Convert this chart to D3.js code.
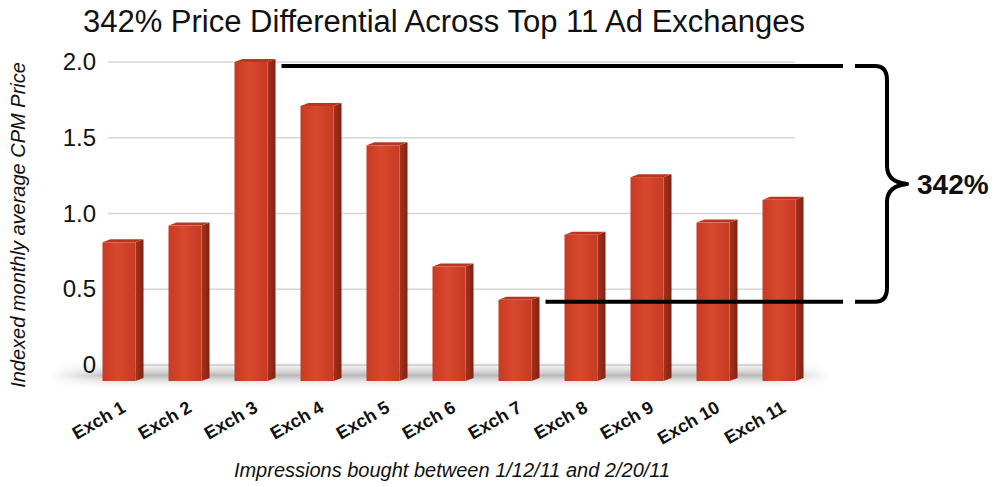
<!DOCTYPE html>
<html>
<head>
<meta charset="utf-8">
<script src="https://cdn.jsdelivr.net/npm/d3@7"></script>
<style>
  body { margin: 0; background: #fff; }
  text { font-family: "Liberation Sans", Arial, sans-serif; }
</style>
</head>
<body>
<svg id="chart"></svg>
<script>
var exchanges = ["Exch 1", "Exch 2", "Exch 3", "Exch 4", "Exch 5", "Exch 6", "Exch 7", "Exch 8", "Exch 9", "Exch 10", "Exch 11"]
var prices = [0.81, 0.92, 2.0, 1.71, 1.45, 0.65, 0.43, 0.86, 1.24, 0.94, 1.09]
var yTicks = [0, 0.5, 1.0, 1.5, 2.0]
var spreadLabel = "342%"

var width = 999, height = 487
var svg = d3.select("#chart")
    .attr("width", width)
    .attr("height", height)

var x = d3.scaleBand()
    .domain(exchanges)
    .range([86, 812])
    .paddingInner(0.5)
    .paddingOuter(0.25)

var y = d3.scaleLinear()
    .domain([0, 2])
    .range([365, 62])

var defs = svg.append("defs")
var front = defs.append("linearGradient").attr("id", "front")
front.append("stop").attr("offset", "0%").attr("stop-color", "#c73a22")
front.append("stop").attr("offset", "45%").attr("stop-color", "#d9482d")
front.append("stop").attr("offset", "100%").attr("stop-color", "#c53b24")
var side = defs.append("linearGradient").attr("id", "side")
side.append("stop").attr("offset", "0%").attr("stop-color", "#a9301b")
side.append("stop").attr("offset", "100%").attr("stop-color", "#7f2313")
var floor = defs.append("linearGradient").attr("id", "floor")
    .attr("x1", 0).attr("y1", 0).attr("x2", 0).attr("y2", 1)
floor.append("stop").attr("offset", "0%").attr("stop-color", "#ffffff").attr("stop-opacity", 0)
floor.append("stop").attr("offset", "55%").attr("stop-color", "#b0b0b0").attr("stop-opacity", 0.9)
floor.append("stop").attr("offset", "100%").attr("stop-color", "#ffffff").attr("stop-opacity", 0)
var floorH = defs.append("linearGradient").attr("id", "floorMask")
floorH.append("stop").attr("offset", "0%").attr("stop-color", "#fff").attr("stop-opacity", 0)
floorH.append("stop").attr("offset", "8%").attr("stop-color", "#fff").attr("stop-opacity", 1)
floorH.append("stop").attr("offset", "92%").attr("stop-color", "#fff").attr("stop-opacity", 1)
floorH.append("stop").attr("offset", "100%").attr("stop-color", "#fff").attr("stop-opacity", 0)
defs.append("mask").attr("id", "fm")
    .append("rect").attr("x", 50).attr("y", 355).attr("width", 780).attr("height", 40)
    .attr("fill", "url(#floorMask)")

// title
svg.append("text")
    .attr("x", 444)
    .attr("y", 32)
    .attr("text-anchor", "middle")
    .attr("font-size", 31)
    .attr("fill", "#111")
    .text("342% Price Differential Across Top 11 Ad Exchanges")

// floor shadow
svg.append("rect")
    .attr("x", 50).attr("y", 358).attr("width", 780).attr("height", 32)
    .attr("fill", "url(#floor)")
    .attr("mask", "url(#fm)")

// gridlines
svg.append("g")
    .selectAll("line")
    .data(yTicks)
    .enter()
    .append("line")
        .attr("x1", 108)
        .attr("x2", 795)
        .attr("y1", d => y(d))
        .attr("y2", d => y(d))
        .attr("stroke", d => d == 0 ? "#c8c8c8" : "#d6d6d6")
        .attr("stroke-width", 1.5)

svg.append("g")
    .selectAll("text")
    .data(yTicks)
    .enter()
    .append("text")
        .attr("x", 96)
        .attr("y", d => y(d) + 8)
        .attr("text-anchor", "end")
        .attr("font-size", 24)
        .attr("fill", "#111")
        .text(d => d == 0 ? "0" : d3.format(".1f")(d))

// bars (front, side, top)
var depth = 8, lift = 3, base = 381
var bars = svg.append("g")
    .selectAll("g")
    .data(exchanges.map((e, i) => [e, prices[i]]))
    .enter()
    .append("g")

bars.append("path")
    .attr("d", d => {
        var x0 = x(d[0]) + x.bandwidth(), t = y(d[1])
        return "M" + x0 + "," + t + "L" + (x0 + depth) + "," + (t - lift) +
            "L" + (x0 + depth) + "," + (base - 3) + "L" + x0 + "," + base + "Z"
    })
    .attr("fill", "url(#side)")

bars.append("path")
    .attr("d", d => {
        var x0 = x(d[0]), x1 = x0 + x.bandwidth(), t = y(d[1])
        return "M" + x0 + "," + t + "L" + (x0 + depth) + "," + (t - lift) +
            "L" + (x1 + depth) + "," + (t - lift) + "L" + x1 + "," + t + "Z"
    })
    .attr("fill", "#b8361f")

bars.append("rect")
    .attr("x", d => x(d[0]))
    .attr("y", d => y(d[1]))
    .attr("width", x.bandwidth())
    .attr("height", d => base - y(d[1]))
    .attr("fill", "url(#front)")

// x labels
svg.append("g")
    .selectAll("text")
    .data(exchanges)
    .enter()
    .append("text")
        .attr("transform", d => "translate(" + (x(d) + x.bandwidth() / 2 + 8) + ",411) rotate(-30)")
        .attr("text-anchor", "end")
        .attr("font-size", 18)
        .attr("font-weight", "bold")
        .attr("fill", "#111")
        .text(d => d)

// axis titles
svg.append("text")
    .attr("transform", "translate(25,225) rotate(-90)")
    .attr("text-anchor", "middle")
    .attr("font-size", 20)
    .attr("font-style", "italic")
    .attr("fill", "#111")
    .text("Indexed monthly average CPM Price")

svg.append("text")
    .attr("x", 452)
    .attr("y", 477)
    .attr("text-anchor", "middle")
    .attr("font-size", 20)
    .attr("font-style", "italic")
    .attr("fill", "#111")
    .text("Impressions bought between 1/12/11 and 2/20/11")

// spread markers
var hi = d3.max(prices), lo = d3.min(prices)
var iHi = prices.indexOf(hi), iLo = prices.indexOf(lo)
var yHi = y(hi) + 4, yLo = y(lo) + 2
svg.append("line")
    .attr("x1", x(exchanges[iHi]) + x.bandwidth() + depth + 6).attr("x2", 843)
    .attr("y1", yHi).attr("y2", yHi)
    .attr("stroke", "#000").attr("stroke-width", 4)
svg.append("line")
    .attr("x1", x(exchanges[iLo]) + x.bandwidth() + depth + 6).attr("x2", 843)
    .attr("y1", yLo).attr("y2", yLo)
    .attr("stroke", "#000").attr("stroke-width", 4)

var mid = (yHi + yLo) / 2
var bx = 855, bc = 887, bm = 907
svg.append("path")
    .attr("d", "M" + bx + "," + yHi +
        "L" + (bc - 12) + "," + yHi +
        "Q" + bc + "," + yHi + " " + bc + "," + (yHi + 14) +
        "L" + bc + "," + (mid - 18) +
        "Q" + bc + "," + (mid - 2) + " " + bm + "," + mid +
        "Q" + bc + "," + (mid + 2) + " " + bc + "," + (mid + 18) +
        "L" + bc + "," + (yLo - 14) +
        "Q" + bc + "," + yLo + " " + (bc - 12) + "," + yLo +
        "L" + bx + "," + yLo)
    .attr("fill", "none")
    .attr("stroke", "#000")
    .attr("stroke-width", 4)
    .attr("stroke-linejoin", "round")

svg.append("text")
    .attr("x", 917)
    .attr("y", mid + 10)
    .attr("font-size", 28)
    .attr("font-weight", "bold")
    .attr("fill", "#111")
    .text(spreadLabel)
</script>
</body>
</html>
